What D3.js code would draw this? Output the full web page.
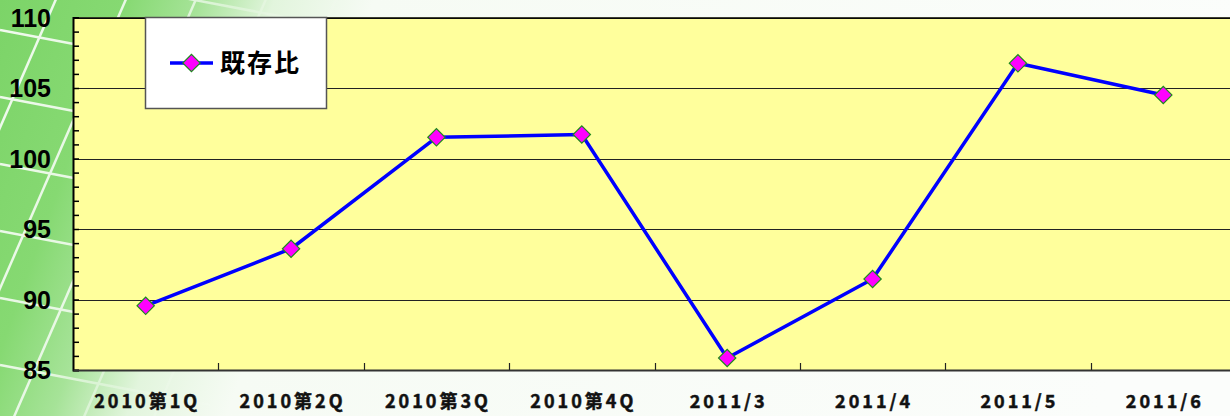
<!DOCTYPE html>
<html>
<head>
<meta charset="utf-8">
<script src="https://cdn.jsdelivr.net/npm/d3@7"></script>
<style>
html,body{margin:0;padding:0;background:#fafdf9;overflow:hidden;}
svg{display:block;}
</style>
</head>
<body>
<script>
const categories = ["2010第1Q","2010第2Q","2010第3Q","2010第4Q","2011/3","2011/4","2011/5","2011/6"];
const values = [89.55, 93.6, 101.5, 101.7, 85.85, 91.45, 106.75, 104.5];
const yTicks = [85, 90, 95, 100, 105, 110];
const seriesName = "既存比";

(function(){
const W = 1230, H = 416;
const svg = d3.select("body").append("svg").attr("width", W).attr("height", H);
const defs = svg.append("defs");

// background gradient
const bg = defs.append("linearGradient").attr("id","bgGrad").attr("x1","0").attr("x2","1").attr("y1","0").attr("y2","0.12");
[[0,"#7cd468"],[0.1,"#86d972"],[0.16,"#a6e398"],[0.22,"#e2f5dd"],[0.3,"#f6fbf4"],[1,"#fbfdfb"]]
  .forEach(([o,c])=>bg.append("stop").attr("offset",o).attr("stop-color",c));
const mg = defs.append("linearGradient").attr("id","maskGrad").attr("x1","0").attr("x2","1").attr("y1","0").attr("y2","0.12");
[[0,"#fff"],[0.14,"#ddd"],[0.22,"#333"],[0.3,"#000"],[1,"#000"]]
  .forEach(([o,c])=>mg.append("stop").attr("offset",o).attr("stop-color",c));
defs.append("mask").attr("id","lineMask").attr("maskUnits","userSpaceOnUse")
  .attr("x",0).attr("y",0).attr("width",W).attr("height",H)
  .append("rect").attr("width",W).attr("height",H).attr("fill","url(#maskGrad)");

svg.append("rect").attr("width",W).attr("height",H).attr("fill","url(#bgGrad)");

// decorative white grid lines
const deco = svg.append("g").attr("mask","url(#lineMask)").attr("stroke","#ffffff").attr("stroke-width",2.5).attr("opacity",0.9);
d3.range(-2, 9).forEach(i=>{
  const y0 = 30 + i*67;
  deco.append("line").attr("x1",0).attr("y1",y0).attr("x2",400).attr("y2",y0+76);
});
d3.range(-2, 12).forEach(i=>{
  const x0 = -60 + i*70;
  deco.append("line").attr("x1",x0).attr("y1",H+10).attr("x2",x0+190).attr("y2",-10);
});

// plot area
const pL = 73, pR = 1236, pT = 17.5, pB = 370;
const x = d3.scaleBand().domain(categories).range([pL, pR]).padding(0);
const y = d3.scaleLinear().domain([85,110]).range([pB, pT]);

svg.append("rect").attr("x",pL).attr("y",pT).attr("width",pR-pL).attr("height",pB-pT).attr("fill","#ffff9c");

// gridlines
svg.append("g").selectAll("line").data(yTicks.filter(d=>d>85)).join("line")
  .attr("x1",pL).attr("x2",pR)
  .attr("y1",d=>Math.round(y(d))+0.5).attr("y2",d=>Math.round(y(d))+0.5)
  .attr("stroke","#222").attr("stroke-width",1);
svg.append("line").attr("x1",pL).attr("x2",pR).attr("y1",pT+0.5).attr("y2",pT+0.5).attr("stroke","#000").attr("stroke-width",1.5);

// y axis with minor ticks
const yAxisG = svg.append("g").attr("transform",`translate(${pL},0)`);
yAxisG.call(d3.axisRight(y).tickValues(d3.range(85,111,1)).tickSize(6).tickFormat(""));
yAxisG.select(".domain").attr("stroke","#000").attr("stroke-width",2);
yAxisG.selectAll(".tick line").attr("stroke","#000").attr("stroke-width",1.5);

// y labels
svg.append("g").selectAll("text").data(yTicks).join("text")
  .attr("x",51).attr("y",d=>y(d)+9)
  .attr("text-anchor","end")
  .attr("font-family","'Liberation Sans', Arial, sans-serif").attr("font-weight","bold").attr("font-size",25)
  .attr("fill","#000").text(d=>d);

// x axis
const xAxisG = svg.append("g").attr("transform",`translate(0,${pB})`);
xAxisG.call(d3.axisTop(x).tickSize(0).tickFormat(""));
xAxisG.select(".domain").attr("stroke","#333").attr("stroke-width",2);
xAxisG.selectAll(".tick").remove();
svg.append("g").selectAll("line").data(categories.slice(1)).join("line")
  .attr("x1",d=>Math.round(x(d))+0.5).attr("x2",d=>Math.round(x(d))+0.5)
  .attr("y1",pB-7).attr("y2",pB).attr("stroke","#222").attr("stroke-width",1.2);

svg.append("g").selectAll("text").data(categories).join("text")
  .attr("x",d=>x(d)+x.bandwidth()/2+1.5).attr("y",408)
  .attr("text-anchor","middle")
  .attr("font-family","'Noto Sans CJK JP', sans-serif").attr("font-weight","bold").attr("font-size",18)
  .attr("letter-spacing",3)
  .attr("fill","#111").attr("stroke","#111").attr("stroke-width",0.5).text(d=>d);

// line
const line = d3.line().x((d,i)=>x(categories[i])+x.bandwidth()/2).y(d=>y(d));
svg.append("path").datum(values).attr("d",line).attr("fill","none").attr("stroke","#0000ff").attr("stroke-width",3.5).attr("stroke-linejoin","round");

const diamond = d3.symbol().type(d3.symbolSquare).size(150);
svg.append("g").selectAll("path").data(values).join("path")
  .attr("d",diamond())
  .attr("transform",(d,i)=>`translate(${x(categories[i])+x.bandwidth()/2},${y(d)}) rotate(45)`)
  .attr("fill","#ff00ff").attr("stroke","#1f8a1f").attr("stroke-width",1.2);

// legend
const lg = svg.append("g");
lg.append("rect").attr("x",145.5).attr("y",17.5).attr("width",181).attr("height",91).attr("fill","#fff").attr("stroke","#555").attr("stroke-width",1.5);
lg.append("line").attr("x1",170).attr("x2",213).attr("y1",63).attr("y2",63).attr("stroke","#0000ff").attr("stroke-width",3.5);
lg.append("path").attr("d",diamond()).attr("transform","translate(191.5,63) rotate(45)").attr("fill","#ff00ff").attr("stroke","#1f8a1f").attr("stroke-width",1.2);
lg.append("text").attr("x",220).attr("y",72).attr("font-family","'Noto Sans CJK JP', sans-serif").attr("font-weight","bold").attr("font-size",25).attr("letter-spacing",2).attr("fill","#000").text(seriesName);
})();
</script>
</body>
</html>
